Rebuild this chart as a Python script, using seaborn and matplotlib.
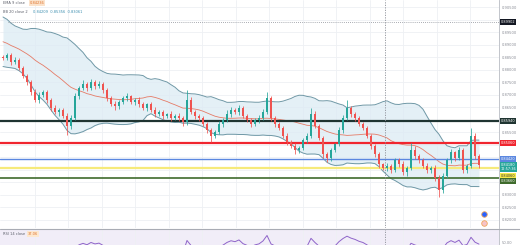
import numpy as np
import pandas as pd
import matplotlib
matplotlib.use("Agg")
import matplotlib.pyplot as plt
import seaborn as sns
from matplotlib.transforms import blended_transform_factory
from matplotlib.lines import Line2D

# ---------------- data ----------------
history_close = [0.8998, 0.8982, 0.9006, 0.8974, 0.8958, 0.8966, 0.8942, 0.8934, 0.8950, 0.8918,
                 0.8902, 0.8910, 0.8886, 0.8894, 0.8870, 0.8878, 0.8854, 0.8862, 0.8838, 0.8850]

close = [0.8846, 0.8858, 0.8830, 0.8838, 0.8806, 0.8774, 0.8750, 0.8710, 0.8678, 0.8698,
         0.8710, 0.8678, 0.8646, 0.8630, 0.8638, 0.8614, 0.8574, 0.8606, 0.8694, 0.8726,
         0.8742, 0.8726, 0.8750, 0.8734, 0.8742, 0.8718, 0.8686, 0.8662, 0.8654, 0.8670,
         0.8686, 0.8694, 0.8670, 0.8678, 0.8662, 0.8646, 0.8662, 0.8638, 0.8622, 0.8630,
         0.8614, 0.8622, 0.8606, 0.8614, 0.8606, 0.8590, 0.8678, 0.8630, 0.8614, 0.8606,
         0.8582, 0.8558, 0.8534, 0.8550, 0.8582, 0.8598, 0.8622, 0.8638, 0.8630, 0.8646,
         0.8614, 0.8598, 0.8582, 0.8598, 0.8606, 0.8630, 0.8686, 0.8606, 0.8582, 0.8566,
         0.8534, 0.8510, 0.8494, 0.8478, 0.8486, 0.8518, 0.8534, 0.8622, 0.8574, 0.8526,
         0.8462, 0.8446, 0.8478, 0.8502, 0.8558, 0.8606, 0.8646, 0.8622, 0.8606, 0.8582,
         0.8566, 0.8534, 0.8494, 0.8462, 0.8422, 0.8406, 0.8414, 0.8398, 0.8438, 0.8422,
         0.8390, 0.8406, 0.8478, 0.8454, 0.8438, 0.8414, 0.8398, 0.8406, 0.8366, 0.8318,
         0.8374, 0.8438, 0.8470, 0.8446, 0.8478, 0.8398, 0.8414, 0.8534, 0.8454, 0.8418]

upper_wick_pips = [8, 10, 6, 12, 8, 6, 10, 8, 12, 14,
                   10, 8, 6, 12, 10, 8, 10, 14, 12, 10,
                   16, 10, 14, 8, 12, 10, 6, 8, 12, 10,
                   8, 14, 6, 10, 12, 8, 6, 10, 14, 8,
                   10, 6, 12, 8, 10, 6, 40, 12, 8, 6,
                   10, 8, 6, 10, 12, 8, 16, 14, 8, 12,
                   10, 6, 8, 10, 12, 14, 24, 6, 10, 8,
                   6, 12, 8, 10, 6, 8, 14, 24, 12, 8,
                   6, 10, 8, 6, 12, 14, 32, 10, 8, 6,
                   10, 8, 6, 8, 10, 6, 12, 8, 10, 6,
                   12, 8, 28, 16, 8, 6, 10, 8, 14, 12,
                   10, 8, 12, 6, 12, 10, 8, 32, 12, 8]

lower_wick_pips = [10, 8, 12, 6, 10, 8, 12, 10, 8, 12,
                   8, 10, 12, 8, 14, 10, 36, 12, 8, 10,
                   6, 12, 8, 10, 6, 12, 10, 8, 14, 10,
                   6, 10, 8, 12, 10, 8, 12, 6, 10, 8,
                   12, 8, 10, 6, 12, 14, 10, 8, 12, 10,
                   8, 12, 24, 10, 8, 12, 6, 10, 8, 12,
                   10, 8, 12, 6, 10, 8, 6, 10, 12, 8,
                   10, 12, 8, 16, 10, 8, 12, 6, 10, 8,
                   14, 16, 10, 8, 6, 10, 8, 12, 10, 8,
                   6, 10, 12, 10, 14, 8, 12, 10, 8, 12,
                   10, 16, 8, 12, 10, 8, 12, 10, 14, 28,
                   10, 8, 12, 10, 8, 12, 10, 8, 14, 10]

level_prices = [0.8594, 0.8506, 0.8442, 0.8406, 0.8366]
level_labels = ["0.85940", "0.85060", "0.84420", "0.84060", "0.83660"]
alert_price = 0.8990
alert_label = "0.89902"
last_price = 0.8418
last_label = "0.84180\n12:57:36"
price_ticks = [0.905, 0.900, 0.895, 0.890, 0.885, 0.880, 0.875, 0.870, 0.865,
               0.860, 0.855, 0.850, 0.845, 0.840, 0.835, 0.830, 0.825, 0.820]
price_tick_labels = ["0.90500", "0.90000", "0.89500", "0.89000", "0.88500", "0.88000",
                     "0.87500", "0.87000", "0.86500", "0.86000", "0.85500", "0.85000",
                     "0.84500", "0.84000", "0.83500", "0.83000", "0.82500", "0.82000"]
rsi_ticks = [50]
rsi_tick_labels = ["50.00"]
header_1 = ("EMA 9 close", "0.84236")
header_2 = ("BB 20 close 2", "0.84209  0.85356  0.83061")
rsi_header = ("RSI 14 close", "37.06")
event_prices = [0.8222, 0.8186]

# ---------------- derived series ----------------
n = len(close)
idx = np.arange(n)
all_close = np.array(history_close + close)
c = np.array(close)
o = all_close[len(history_close) - 1:-1]
hi = np.maximum(o, c) + np.array(upper_wick_pips) * 1e-4
lo = np.minimum(o, c) - np.array(lower_wick_pips) * 1e-4

s = pd.Series(all_close)
mid = s.rolling(20).mean()
sd = s.rolling(20).std(ddof=0)
bb = pd.DataFrame({"i": idx,
                   "mid": mid.values[-n:],
                   "upper": (mid + 2 * sd).values[-n:],
                   "lower": (mid - 2 * sd).values[-n:]})

delta = s.diff()
gain = delta.clip(lower=0).ewm(alpha=1 / 14, adjust=False).mean()
loss = (-delta.clip(upper=0)).ewm(alpha=1 / 14, adjust=False).mean()
rsi = (100 - 100 / (1 + gain / loss)).values[-n:]
rsi_df = pd.DataFrame({"i": idx, "rsi": rsi})

# ---------------- style ----------------
sns.set_theme(style="white")
plt.rcParams["font.family"] = ["DejaVu Sans"]

GREEN = "#26a69a"
RED = "#ef5350"
GRID = "#eef0f4"
AXIS_TXT = "#8a8d96"
PX = 0.0004  # price per pixel on the price scale

W, H = 520, 245
fig = plt.figure(figsize=(W / 100, H / 100), dpi=100)
fig.patch.set_facecolor("white")

ax = fig.add_axes([0, (H - 228) / H, 499 / W, 228 / H])
axr = fig.add_axes([0, 0, 499 / W, 16 / H])

xmin, xmax = -0.75, -0.75 + 499 / 4
ax.set_xlim(xmin, xmax)
axr.set_xlim(xmin, xmax)
ax.set_ylim(0.8166, 0.9078)

vgrid = np.arange(8, 124, 8.375)
for a in (ax, axr):
    a.set_facecolor("white")
    a.set_xticks(vgrid)
    a.tick_params(axis="x", bottom=False, labelbottom=False)
    a.set_axisbelow(True)
    a.grid(True, axis="x", color=GRID, lw=0.6)
    for sp in a.spines.values():
        sp.set_visible(False)
    a.spines["right"].set_visible(True)
    a.spines["right"].set_color("#b8bbc3")
    a.spines["right"].set_linewidth(0.6)

# right-hand price labels (position, text, face, text colour, half height in px)
labels = [
    (alert_price, alert_label, "#131722", "white", 3),
    (level_prices[0], level_labels[0], "#1f3431", "white", 3),
    (level_prices[1], level_labels[1], "#f0252f", "white", 3),
    (level_prices[2], level_labels[2], "#5b87e0", "white", 3),
    (last_price - 1.7 * PX, last_label, GREEN, "white", 5),
    (level_prices[3] - 7.8 * PX, level_labels[3], "#f6ea4a", "#333333", 3),
    (level_prices[4] - 3.2 * PX, level_labels[4], "#3f6b2c", "white", 3),
]

shown = []
for t, lab in zip(price_ticks, price_tick_labels):
    hidden = any(abs(t - p) < (hh + 3.2) * PX for p, _, _, _, hh in labels)
    shown.append("" if hidden else lab)

ax.yaxis.tick_right()
ax.set_yticks(price_ticks)
ax.set_yticklabels(shown)
ax.tick_params(axis="y", length=0, pad=2.2, labelsize=2.6, labelcolor=AXIS_TXT)
ax.grid(True, axis="y", color=GRID, lw=0.6)

# Bollinger bands
ax.fill_between(bb["i"], bb["lower"], bb["upper"], color="#dcebf4", alpha=0.75, zorder=1, lw=0)
sns.lineplot(data=bb, x="i", y="upper", ax=ax, color="#6f98a6", lw=0.7, zorder=2)
sns.lineplot(data=bb, x="i", y="lower", ax=ax, color="#6f98a6", lw=0.7, zorder=2)
sns.lineplot(data=bb, x="i", y="mid", ax=ax, color="#e57b67", lw=0.6, zorder=2)

# horizontal levels
level_colors = ["#1f3431", "#f0252f", "#5b87e0", "#f6ea7a", "#3f6b2c"]
level_widths = [1.6, 1.6, 1.0, 1.6, 1.2]
for p, col, lw in zip(level_prices, level_colors, level_widths):
    ax.axhline(p, color=col, lw=lw, zorder=3)

# alert dotted line
ax.hlines(alert_price, 1.25, xmax, colors="#8c8f98", lw=0.6, linestyles=(0, (1, 1.5)), zorder=3)

# candles
colors = np.where(c >= o, GREEN, RED)
ax.vlines(idx, lo, hi, colors=colors, lw=0.55, zorder=4)
ax.bar(idx, np.maximum(np.abs(c - o), 0.0002), bottom=np.minimum(o, c), width=0.62,
       color=colors, lw=0, zorder=5)

# session separator
for a in (ax, axr):
    a.axvline(95.5, color="#8c8f98", lw=0.6, ls=(0, (1.5, 1.5)), zorder=6)

# event icons
ax.scatter([120.25], [event_prices[0]], s=16, color="#2962ff", edgecolor="#f0a65a", lw=0.6, zorder=7)
ax.scatter([120.25], [event_prices[1]], s=16, color="#f6c3c8", edgecolor="#f0a65a", lw=0.6, zorder=7)

trans = blended_transform_factory(fig.transFigure, ax.transData)
for p, text, fc, tc, _ in labels:
    ax.text(500.5 / W, p, text, transform=trans, fontsize=2.5, color=tc, ha="left", va="center",
            linespacing=1.05, clip_on=False, zorder=20,
            bbox=dict(boxstyle="square,pad=0.22", fc=fc, ec="none"))

# RSI panel
axr.set_ylim(46, 71)
axr.axhspan(30, 70, color="#7e57c2", alpha=0.10, lw=0, zorder=0)
sns.lineplot(data=rsi_df, x="i", y="rsi", ax=axr, color="#8e63c9", lw=0.7, zorder=3)
axr.yaxis.tick_right()
axr.set_yticks(rsi_ticks)
axr.set_yticklabels(rsi_tick_labels)
axr.tick_params(axis="y", length=0, pad=2.2, labelsize=2.6, labelcolor=AXIS_TXT)
for a in (ax, axr):
    a.set_xlabel("")
    a.set_ylabel("")

# separator between panels
fig.add_artist(Line2D([0, 1], [(H - 228.5) / H] * 2, transform=fig.transFigure,
                      color="#a9acb4", lw=0.8))

# header texts
def ftxt(xpx, ypx, t, col, fs=2.6, bg=None):
    kw = {}
    if bg:
        kw["bbox"] = dict(boxstyle="square,pad=0.2", fc=bg, ec="none")
    fig.text(xpx / W, 1 - ypx / H, t, fontsize=fs, color=col, ha="left", va="center", **kw)

ftxt(3, 3, header_1[0], "#5d606b")
ftxt(30, 3, header_1[1], "#e0742e", bg="#fbe3cc")
ftxt(3, 12, header_2[0], "#5d606b")
ftxt(33, 12, header_2[1], "#3d8fb0")
ftxt(3, 234, rsi_header[0], "#5d606b")
ftxt(28, 234, rsi_header[1], "#e0742e", bg="#fde8cf")

fig.savefig("out.png", dpi=100, facecolor="white")
